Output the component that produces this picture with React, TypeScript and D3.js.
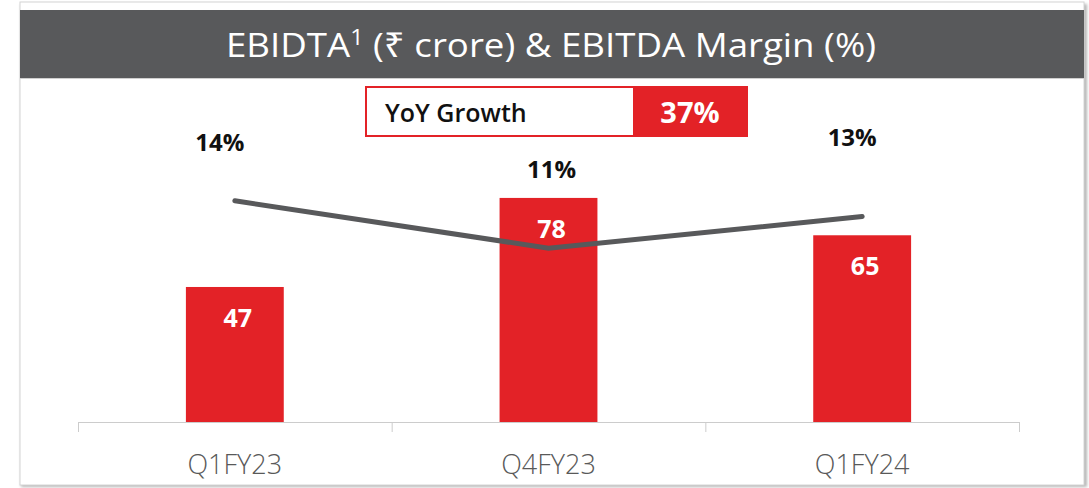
import React from "react";
import * as d3 from "d3";

const categories = ["Q1FY23", "Q4FY23", "Q1FY24"];
const ebitda = [47, 78, 65];
const margin = [14, 11, 13];
const marginLabels = ["14%", "11%", "13%"];
const yoyLabel = "YoY Growth";
const yoyValue = "37%";
const title = "EBIDTA";
const titleRest = " (₹ crore) & EBITDA Margin (%)";

const W = 1089;
const H = 488;
const RED = "#e32227";
const GREY = "#58595b";
const FONT = "'Open Sans', 'Noto Sans', sans-serif";

// manual label nudges (layout only)
const pctDx = [-15, 3, -10];
const pctDy = [-50, -70, -71];

export default function App() {
  const x = d3.scaleBand<string>().domain(categories).range([78, 1019]).padding(0);
  const yBar = d3.scaleLinear().domain([0, 110]).range([422, 106]);
  const yLine = d3.scaleLinear().domain([0, 20]).range([422, 106]);
  const bw = x.bandwidth() * 0.312;
  const cx = (c: string) => (x(c) as number) + x.bandwidth() / 2;

  const line = d3
    .line<number>()
    .x((_, i) => cx(categories[i]))
    .y((d) => yLine(d));

  const ticks = [...categories.map((c) => x(c) as number), 1019];

  return (
    <svg
      width={W}
      height={H}
      style={{ position: "absolute", left: 0, top: 0, display: "block" }}
      fontFamily={FONT}
    >
      <defs>
        <filter id="sh" x="-5%" y="-5%" width="110%" height="110%">
          <feGaussianBlur stdDeviation="1.5" />
        </filter>
      </defs>
      <rect x={0} y={0} width={W} height={H} fill="#ffffff" />
      {/* panel shadow */}
      <rect x={21} y={4} width={1066} height={483} fill="#b5b5b5" filter="url(#sh)" />
      {/* panel */}
      <rect x={20} y={2} width={1064} height={483} fill="#ffffff" stroke="#d4d4d4" strokeWidth={1} />
      {/* header */}
      <rect x={20} y={10} width={1064} height={68} fill={GREY} />
      <line x1={20} x2={1084} y1={78.5} y2={78.5} stroke="#cfcfcf" strokeWidth={1} />
      <text
        x={551}
        y={57}
        textAnchor="middle"
        fill="#ffffff"
        fontSize={33}
        textLength={650}
        lengthAdjust="spacingAndGlyphs"
      >
        {title}
        <tspan fontSize={21} dy={-12}>1</tspan>
        <tspan dy={12}>{titleRest}</tspan>
      </text>

      {/* YoY box */}
      <rect x={366} y={87} width={381} height={49} fill="#ffffff" stroke={RED} strokeWidth={2} />
      <rect x={633} y={86} width={115} height={51} fill={RED} />
      <text x={385} y={122} fontSize={25} fontWeight={600} fill="#111111">
        {yoyLabel}
      </text>
      <text x={690} y={123} textAnchor="middle" fontSize={29} fontWeight={700} fill="#ffffff">
        {yoyValue}
      </text>

      {/* axis */}
      <line x1={78} x2={1019} y1={422.5} y2={422.5} stroke="#cccccc" strokeWidth={1} />
      {ticks.map((t, i) => (
        <line key={i} x1={t + 0.5} x2={t + 0.5} y1={422} y2={432} stroke="#cccccc" strokeWidth={1} />
      ))}
      {categories.map((c) => (
        <text key={c} x={cx(c)} y={474} textAnchor="middle" fontSize={27} fontWeight={300} fill="#595959">
          {c}
        </text>
      ))}

      {/* bars */}
      {ebitda.map((v, i) => (
        <g key={i}>
          <rect
            x={cx(categories[i]) - bw / 2}
            y={yBar(v)}
            width={bw}
            height={yBar(0) - yBar(v)}
            fill={RED}
          />
          <text
            x={cx(categories[i]) + 3}
            y={yBar(v) + 40}
            textAnchor="middle"
            fontSize={25}
            fontWeight={700}
            fill="#ffffff"
          >
            {v}
          </text>
        </g>
      ))}

      {/* margin line */}
      <path
        d={line(margin) || ""}
        fill="none"
        stroke={GREY}
        strokeWidth={5}
        strokeLinecap="round"
        strokeLinejoin="miter"
      />
      {margin.map((m, i) => (
        <text
          key={i}
          x={cx(categories[i]) + pctDx[i]}
          y={yLine(m) + pctDy[i]}
          textAnchor="middle"
          fontSize={24}
          fontWeight={700}
          fill="#111111"
        >
          {marginLabels[i]}
        </text>
      ))}
    </svg>
  );
}
